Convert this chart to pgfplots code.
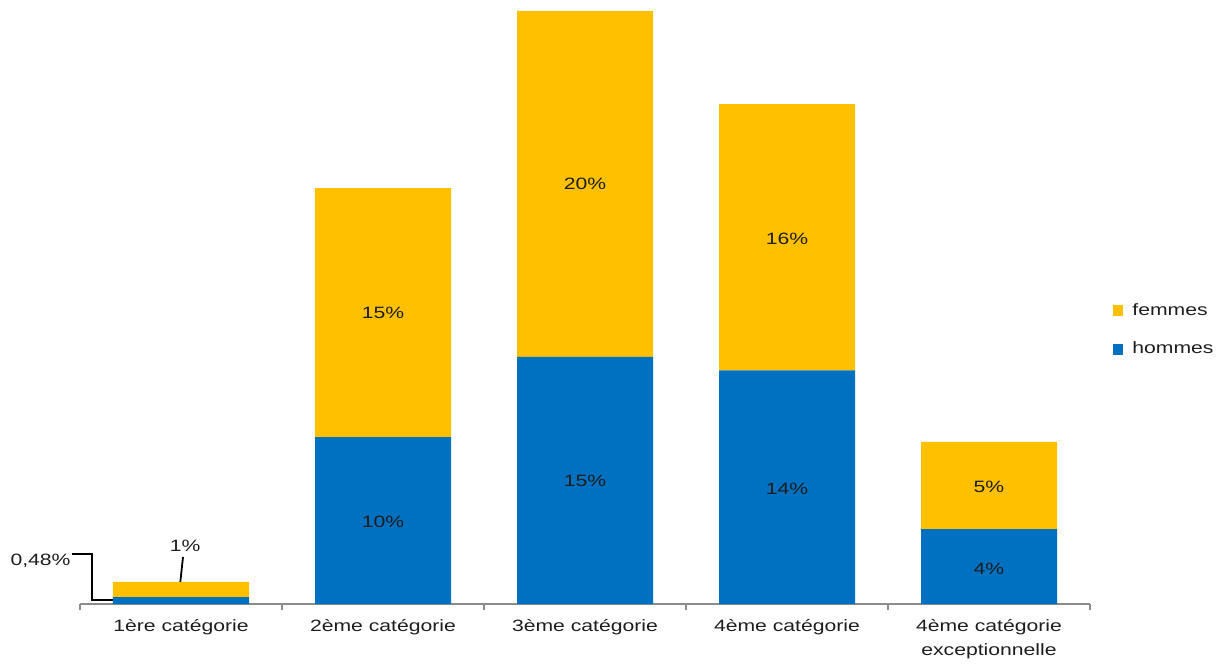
\documentclass[border=0pt]{standalone}
\usepackage{fontspec}
\setmainfont[FakeStretch=1.29]{Liberation Sans}
\usepackage{pgfplots}
\pgfplotsset{compat=1.18}
\definecolor{cYellow}{HTML}{FFC000}
\definecolor{cBlue}{HTML}{0070C0}
\definecolor{cText}{HTML}{1E1E1E}
\definecolor{cAxis}{HTML}{8C8C8C}
\begin{document}
\begin{tikzpicture}[font=\fontsize{8.2bp}{12bp}\selectfont, text=cText]
\useasboundingbox (-40bp,-30bp) rectangle (572bp,302bp);
\begin{axis}[
  at={(0,0)}, anchor=south west,
  scale only axis, width=505bp, height=296.5bp,
  xmin=0, xmax=5, ymin=0, ymax=35.03,
  ybar stacked, bar width=68bp,
  axis x line*=bottom, axis y line=none,
  x axis line style={cAxis, line width=0.6pt, -},
  xtick={0.5,1.5,2.5,3.5,4.5},
  xticklabels={1ère catégorie,2ème catégorie,3ème catégorie,4ème catégorie,{4ème catégorie\\exceptionnelle}},
  xticklabel style={align=center, anchor=north, yshift=-4bp, text=cText},
  major tick length=0pt,
  extra x ticks={0,1,2,3,4,5},
  extra x tick labels={},
  extra x tick style={major tick length=3bp, tick align=outside, tick style={cAxis, line width=0.6pt}},
  ytick=\empty,
  clip=false,
  legend style={at={(1.022,0.462)}, anchor=west, draw=none, fill=none,
    font=\fontsize{8.2bp}{12bp}\selectfont, row sep=7bp, inner sep=0pt,
    nodes={inner sep=2.5bp, text=cText}},
  legend cell align=left,
  reverse legend,
]
\addplot[fill=cBlue, draw=none,
  legend image code/.code={\fill[cBlue] (0bp,-2.6bp) rectangle (5.4bp,2.6bp);}]
  coordinates {(0.5,0.41) (1.5,9.86) (2.5,14.6) (3.5,13.8) (4.5,4.43)};
\addlegendentry{\hspace{2bp}hommes}
\addplot[fill=cYellow, draw=none,
  legend image code/.code={\fill[cYellow] (0bp,-2.6bp) rectangle (5.4bp,2.6bp);}]
  coordinates {(0.5,0.89) (1.5,14.7) (2.5,20.43) (3.5,15.73) (4.5,5.14)};
\addlegendentry{\hspace{2bp}femmes}
% callout lines for first category
\draw[black, line width=0.9pt] (axis cs:0.51,2.78) -- (axis cs:0.495,1.12);
\draw[black, line width=0.9pt] (axis cs:-0.0396,2.95) -- (axis cs:0.0594,2.95) -- (axis cs:0.0594,0.24) -- (axis cs:0.168,0.24);
\end{axis}
\begin{axis}[
  at={(0,0)}, anchor=south west,
  scale only axis, width=505bp, height=296.5bp,
  xmin=0, xmax=5, ymin=0, ymax=35.03,
  hide axis, clip=false,
]
\addplot[draw=none, mark=none, nodes near coords, point meta=explicit symbolic,
  nodes near coords align={center},
  every node near coord/.append style={text=cText, inner sep=0pt}]
  coordinates {
  (1.5,4.84) [10\%]
  (2.5,7.27) [15\%]
  (3.5,6.80) [14\%]
  (4.5,2.07) [4\%]
  (1.5,17.19) [15\%]
  (2.5,24.8) [20\%]
  (3.5,21.56) [16\%]
  (4.5,6.94) [5\%]
  (0.52,3.43) [1\%]
  };
\addplot[draw=none, mark=none, nodes near coords, point meta=explicit symbolic,
  every node near coord/.append style={anchor=east, text=cText, inner sep=0pt}]
  coordinates {(-0.045,2.54) [0,48\%]};
\end{axis}
\end{tikzpicture}
\end{document}
